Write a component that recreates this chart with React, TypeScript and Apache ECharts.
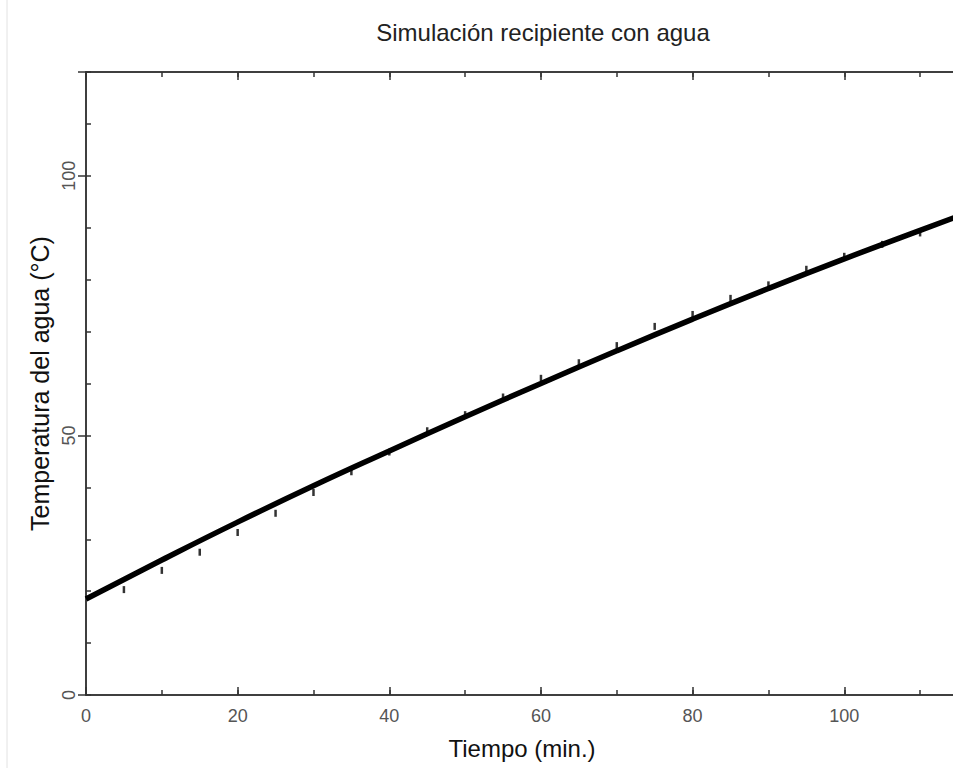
import React, { useEffect, useRef } from "react";
import * as echarts from "echarts";

const simTime = [0, 10, 20, 30, 40, 50, 60, 70, 80, 90, 100, 110, 115];
const simTemp = [18.5, 26.0, 33.3, 40.3, 47.0, 53.6, 60.0, 66.3, 72.4, 78.3, 84.0, 89.5, 92.2];

const obsTime = [5, 10, 15, 20, 25, 30, 35, 40, 45, 50, 55, 60, 65, 70, 75, 80, 85, 90, 95, 100, 105, 110];
const obsTemp = [20.3, 24.0, 27.5, 31.3, 35.0, 39.0, 43.0, 46.8, 50.9, 54.0, 57.4, 61.0, 64.0, 67.3, 71.0, 73.3, 76.4, 79.0, 82.0, 84.5, 86.8, 89.0];

const xMin = 0;
const xMax = 115;
const yMin = 0;
const yMax = 120;

const FONT = "'Liberation Sans', Arial, sans-serif";

export default function App() {
  const ref = useRef<HTMLDivElement>(null);
  useEffect(() => {
    if (!ref.current) return;
    const chart = echarts.init(ref.current, undefined, { renderer: "svg" });
    const axisLine = { show: true, lineStyle: { color: "#333", width: 1.5 } };
    const tickStyle = { color: "#333", width: 1.5 };
    const baseX = {
      type: "value" as const,
      min: xMin,
      max: xMax,
      splitLine: { show: false },
      axisLine,
    };
    const baseY = {
      type: "value" as const,
      min: yMin,
      max: yMax,
      splitLine: { show: false },
      axisLine,
    };
    const option: any = {
      animation: false,
      backgroundColor: "#fff",
      title: {
        text: "Simulación recipiente con agua",
        left: 538,
        top: 15,
        textAlign: "center",
        textStyle: { fontFamily: FONT, fontSize: 24, fontWeight: "normal", color: "#222" },
      },
      grid: { left: 86, top: 72, width: 872, height: 623, outerBoundsMode: "none", containLabel: false },
      xAxis: [
        {
          ...baseX,
          position: "bottom",
          interval: 20,
          axisTick: { show: true, inside: true, length: 8, lineStyle: tickStyle },
          axisLabel: {
            show: true,
            margin: 12,
            color: "#555",
            fontFamily: FONT,
            fontSize: 18,
            formatter: (v: number) => (v % 20 === 0 ? String(v) : ""),
          },
          name: "Tiempo (min.)",
          nameLocation: "middle",
          nameGap: 41,
          nameTextStyle: { fontFamily: FONT, fontSize: 24, color: "#111" },
        },
        {
          ...baseX,
          position: "bottom",
          interval: 10,
          axisTick: { show: true, inside: true, length: 5, lineStyle: tickStyle },
          axisLabel: { show: false },
        },
        {
          ...baseX,
          position: "top",
          interval: 20,
          axisTick: { show: true, inside: true, length: 8, lineStyle: tickStyle },
          axisLabel: { show: false },
        },
        {
          ...baseX,
          position: "top",
          interval: 10,
          axisTick: { show: true, inside: true, length: 5, lineStyle: tickStyle },
          axisLabel: { show: false },
        },
      ],
      yAxis: [
        {
          ...baseY,
          position: "left",
          interval: 10,
          axisTick: { show: true, inside: true, length: 5, lineStyle: tickStyle },
          axisLabel: {
            show: true,
            rotate: 90,
            margin: 8,
            color: "#555",
            fontFamily: FONT,
            fontSize: 18,
            formatter: (v: number) => (v % 50 === 0 ? String(v) : ""),
          },
          name: "Temperatura del agua (°C)",
          nameLocation: "middle",
          nameGap: 31,
          nameRotate: 90,
          nameTextStyle: { fontFamily: FONT, fontSize: 25, color: "#111" },
        },
        {
          ...baseY,
          position: "right",
          interval: 50,
          axisTick: { show: true, inside: true, length: 8, lineStyle: tickStyle },
          axisLabel: { show: false },
        },
      ],
      series: [
        {
          type: "line",
          xAxisIndex: 0,
          yAxisIndex: 0,
          data: simTime.map((t, i) => [t, simTemp[i]]),
          showSymbol: false,
          smooth: true,
          lineStyle: { color: "#000", width: 5.5 },
          z: 3,
        },
        {
          type: "scatter",
          xAxisIndex: 0,
          yAxisIndex: 0,
          data: obsTime.map((t, i) => [t, obsTemp[i]]),
          symbol: "rect",
          symbolSize: [2.5, 7],
          itemStyle: { color: "#000" },
          z: 4,
        },
      ],
      graphic: [
        {
          type: "line",
          shape: { x1: 7, y1: 0, x2: 7, y2: 768 },
          style: { stroke: "#e2e2e2", lineWidth: 1 },
        },
      ],
    };
    chart.setOption(option);
    return () => chart.dispose();
  }, []);
  return (
    <div
      ref={ref}
      style={{ position: "fixed", left: 0, top: 0, width: 953, height: 768 }}
    />
  );
}
